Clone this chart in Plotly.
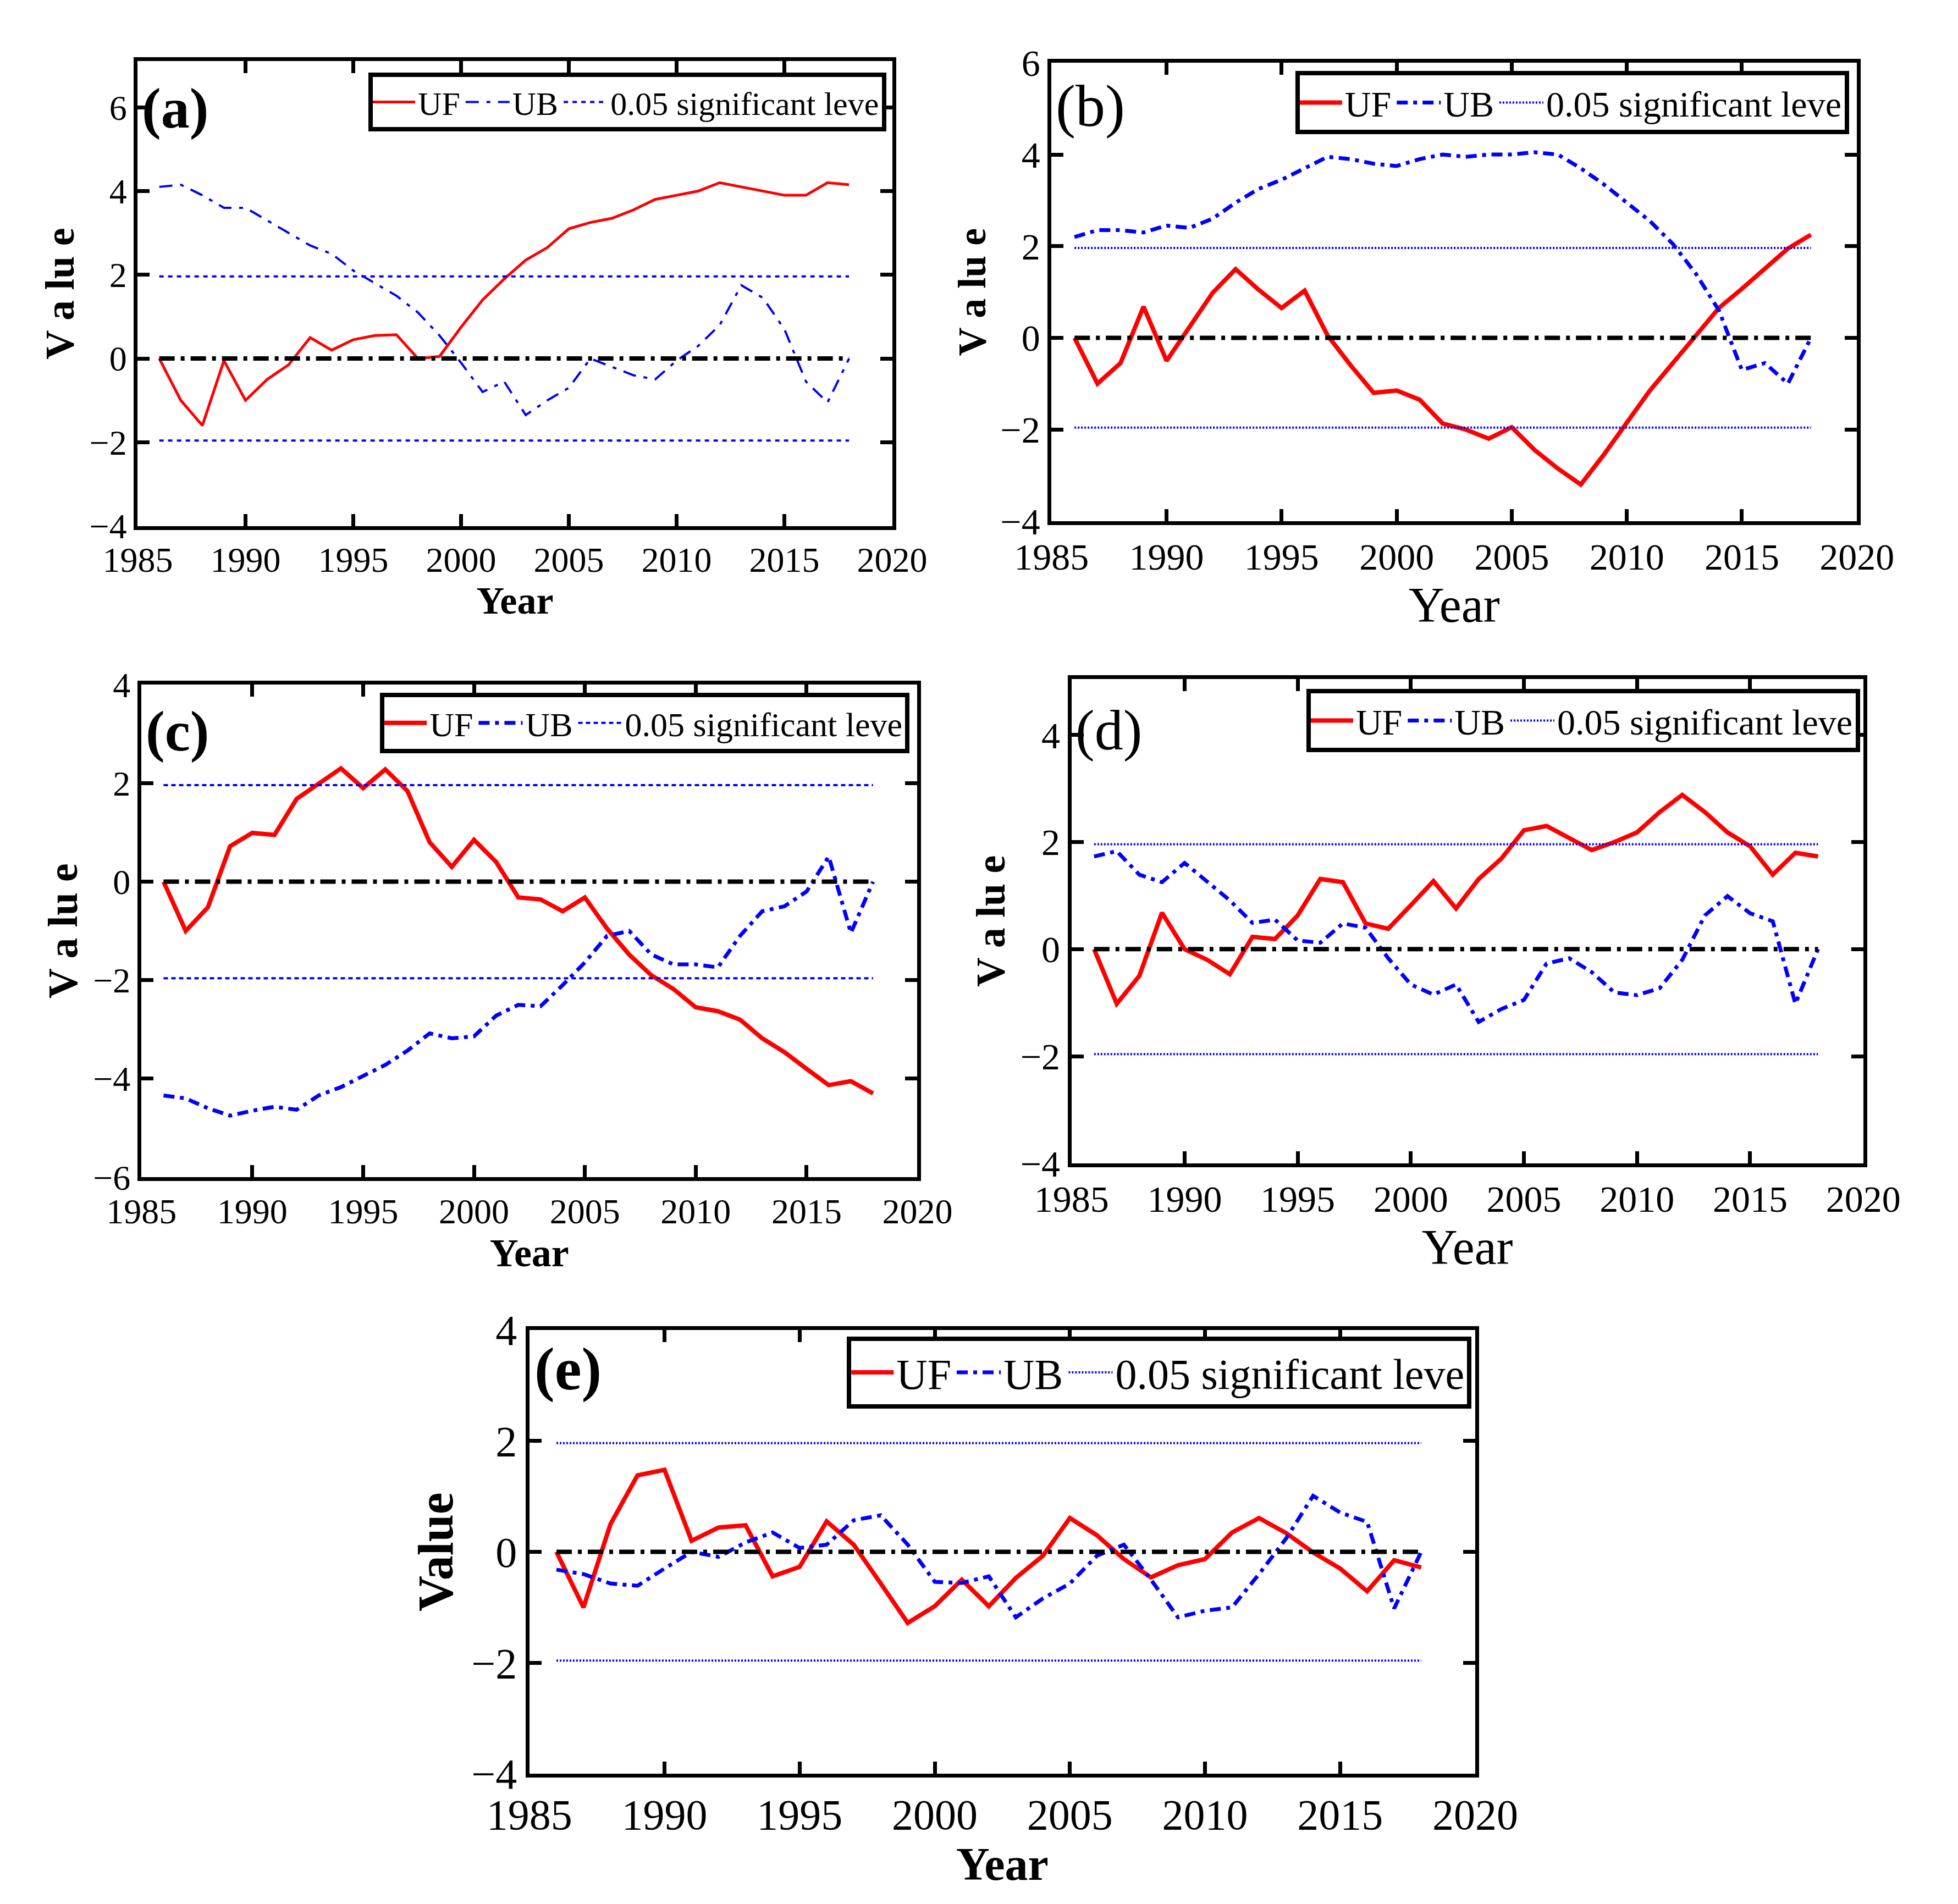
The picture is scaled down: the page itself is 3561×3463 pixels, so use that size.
import plotly.graph_objects as go

# ---------------- data ----------------
years = list(range(1986, 2019))
SIG = 1.96

uf_a = [0, -1.0, -1.6, -0.05, -1.0, -0.5, -0.15, 0.5, 0.2, 0.45, 0.55, 0.57, 0.0, 0.05, 0.75, 1.4,
        1.9, 2.35, 2.65, 3.1, 3.25, 3.35, 3.55, 3.8, 3.9, 4.0, 4.2, 4.1, 4.0, 3.9, 3.9, 4.2, 4.15]
ub_a = [4.1, 4.15, 3.9, 3.6, 3.6, 3.3, 3.0, 2.7, 2.5, 2.1, 1.8, 1.5, 1.1, 0.55, -0.1, -0.8,
        -0.55, -1.35, -1.0, -0.7, 0.0, -0.2, -0.4, -0.5, -0.05, 0.3, 0.8, 1.75, 1.45, 0.7, -0.55, -1.05, 0.0]

uf_b = [0, -1.0, -0.55, 0.68, -0.5, 0.25, 0.98, 1.5, 1.05, 0.65, 1.03, 0.05, -0.6, -1.2, -1.15, -1.35,
        -1.87, -2.0, -2.2, -1.95, -2.45, -2.85, -3.2, -2.55, -1.85, -1.15, -0.55, 0.05, 0.65, 1.07, 1.5, 1.95, 2.25]
ub_b = [2.2, 2.35, 2.35, 2.3, 2.45, 2.4, 2.6, 2.95, 3.25, 3.45, 3.7, 3.95, 3.9, 3.8, 3.75, 3.9,
        4.0, 3.95, 4.0, 4.0, 4.05, 4.0, 3.7, 3.35, 2.95, 2.55, 2.05, 1.4, 0.6, -0.7, -0.55, -1.0, 0.0]

uf_c = [0, -1.0, -0.52, 0.72, 0.99, 0.95, 1.68, 2.0, 2.3, 1.9, 2.28, 1.84, 0.8, 0.3, 0.85, 0.4,
        -0.32, -0.36, -0.6, -0.32, -0.95, -1.48, -1.9, -2.18, -2.55, -2.63, -2.8, -3.18, -3.46, -3.8, -4.13, -4.05, -4.3]
ub_c = [-4.34, -4.4, -4.6, -4.75, -4.65, -4.57, -4.63, -4.34, -4.17, -3.94, -3.72, -3.43, -3.08, -3.18, -3.14, -2.72,
        -2.5, -2.53, -2.1, -1.64, -1.1, -1.0, -1.48, -1.68, -1.68, -1.74, -1.1, -0.6, -0.5, -0.2, 0.51, -1.04, 0.0]

uf_d = [0, -1.02, -0.5, 0.68, 0.0, -0.2, -0.47, 0.23, 0.19, 0.63, 1.31, 1.25, 0.48, 0.38, 0.82, 1.27,
        0.76, 1.31, 1.69, 2.22, 2.3, 2.08, 1.85, 2.0, 2.18, 2.56, 2.88, 2.56, 2.18, 1.92, 1.39, 1.8, 1.73]
ub_d = [1.73, 1.83, 1.39, 1.25, 1.61, 1.27, 0.91, 0.49, 0.55, 0.16, 0.12, 0.48, 0.4, -0.17, -0.66, -0.85,
        -0.66, -1.36, -1.12, -0.95, -0.27, -0.17, -0.43, -0.81, -0.86, -0.73, -0.2, 0.63, 0.99, 0.67, 0.52, -1.02, 0.0]

uf_e = [0, -1.0, 0.5, 1.38, 1.48, 0.2, 0.44, 0.48, -0.44, -0.27, 0.55, 0.13, -0.57, -1.28, -0.98, -0.5,
        -0.98, -0.47, -0.07, 0.61, 0.3, -0.13, -0.46, -0.24, -0.13, 0.35, 0.61, 0.34, -0.01, -0.3, -0.71, -0.15, -0.28]
ub_e = [-0.32, -0.4, -0.57, -0.61, -0.3, 0.0, -0.09, 0.17, 0.35, 0.07, 0.13, 0.57, 0.66, 0.13, -0.54, -0.56,
        -0.44, -1.18, -0.84, -0.57, -0.07, 0.13, -0.5, -1.18, -1.06, -1.0, -0.4, 0.24, 1.01, 0.71, 0.54, -1.02, 0.0]

labels = ['(a)', '(b)', '(c)', '(d)', '(e)']
series = [(uf_a, ub_a), (uf_b, ub_b), (uf_c, ub_c), (uf_d, ub_d), (uf_e, ub_e)]
y_ranges = [[-4, 7.1], [-4, 6], [-6, 4], [-4, 5.05], [-4, 4]]
y_ticks = [[-4, -2, 0, 2, 4, 6], [-4, -2, 0, 2, 4, 6], [-6, -4, -2, 0, 2, 4], [-4, -2, 0, 2, 4], [-4, -2, 0, 2, 4]]
y_titles = ['V a lu e', 'V a lu e', 'V a lu e', 'V a lu e', 'Value']

# ---------------- layout of the five panels (pixels in 3561x3463) ----------------
W, H = 3561, 3463
boxes = [(172, 1607, 62, 929), (1910, 3442, 65, 920), (179, 1655, 1225, 2144),
         (1948, 3454, 1214, 2118), (917, 2716, 2429, 3257)]
legend_pos = [(1596, 83), (3427, 80), (1640, 1240), (3448, 1233), (2709, 2441)]
tick_size = [64, 68, 64, 68, 78]
leg_size = [60, 66, 62, 66, 78]
year_style = [(70, True), (90, False), (72, True), (90, False), (84, True)]
value_size = [74, 72, 76, 74, 90]
lab_style = [(104, True, 0.97), (108, False, 0.98), (104, True, 0.972), (104, False, 0.962), (110, True, 0.99)]
line_w = [5, 8, 8, 8, 8]
ub_dash = ['24px,14px,7px,14px', '20px,10px,7px,10px', '20px,10px,7px,10px', '20px,10px,7px,10px', '20px,10px,7px,10px']
sig_dash = ['8px,8px', '3px,3px', '8px,6px', '3px,3px', '3px,3px']

FONT = 'Liberation Serif, Times New Roman, serif'

fig = go.Figure()
layout = dict(width=W, height=H, margin=dict(l=0, r=0, t=0, b=0),
              paper_bgcolor='white', plot_bgcolor='white', showlegend=True,
              font=dict(family=FONT, color='black'), annotations=[])

for i, (uf, ub) in enumerate(series):
    n = '' if i == 0 else str(i + 1)
    xa, ya = 'x' + n, 'y' + n
    leg = 'legend' + n
    l, r, t, b = boxes[i]

    fig.add_trace(go.Scatter(x=years, y=uf, mode='lines', name='UF', legend=leg,
                             xaxis=xa, yaxis=ya, line=dict(color='#ff0000', width=line_w[i])))
    fig.add_trace(go.Scatter(x=years, y=ub, mode='lines', name='UB', legend=leg,
                             xaxis=xa, yaxis=ya, line=dict(color='#0000ff', width=line_w[i] - 1, dash=ub_dash[i])))
    fig.add_trace(go.Scatter(x=[years[0], years[-1]], y=[SIG, SIG], mode='lines', name='0.05 significant leve',
                             legend=leg, legendgroup='sig' + n, xaxis=xa, yaxis=ya,
                             line=dict(color='#0000ff', width=4, dash=sig_dash[i])))
    fig.add_trace(go.Scatter(x=[years[0], years[-1]], y=[-SIG, -SIG], mode='lines', showlegend=False,
                             legend=leg, legendgroup='sig' + n, xaxis=xa, yaxis=ya,
                             line=dict(color='#0000ff', width=4, dash=sig_dash[i])))
    fig.add_trace(go.Scatter(x=[years[0], years[-1]], y=[0, 0], mode='lines', showlegend=False,
                             xaxis=xa, yaxis=ya, line=dict(color='black', width=8, dash='28px,11px,7px,11px')))

    ax_common = dict(showgrid=False, zeroline=False, showline=True, linewidth=7, linecolor='black',
                     mirror='ticks', ticks='inside', ticklen=22, tickwidth=7, tickcolor='black')
    ysz, ybold = year_style[i]
    layout['xaxis' + n] = dict(ax_common, domain=[l / W, r / W], anchor=ya, range=[1985, 2020],
                               tickvals=list(range(1985, 2021, 5)),
                               tickfont=dict(family=FONT, size=tick_size[i], color='black'),
                               title=dict(text='<b>Year</b>' if ybold else 'Year', standoff=14,
                                          font=dict(family=FONT, size=ysz, color='black')))
    layout['yaxis' + n] = dict(ax_common, domain=[1 - b / H, 1 - t / H], anchor=xa, range=y_ranges[i],
                               tickvals=y_ticks[i],
                               tickfont=dict(family=FONT, size=tick_size[i], color='black'),
                               title=dict(text='<b>' + y_titles[i] + '</b>', standoff=6,
                                          font=dict(family=FONT, size=value_size[i], color='black')))
    lx, ly = legend_pos[i]
    layout[leg] = dict(x=lx / W, y=1 - ly / H, xanchor='right', yanchor='top', xref='paper', yref='paper',
                       orientation='h', bgcolor='white', bordercolor='black', borderwidth=8,
                       font=dict(family=FONT, size=leg_size[i], color='black'), itemwidth=80,
                       tracegroupgap=0)
    fs, fb, fy = lab_style[i]
    layout['annotations'].append(dict(text='<b>' + labels[i] + '</b>' if fb else labels[i],
                                      xref=xa + ' domain', yref=ya + ' domain', x=0.004, y=fy,
                                      xanchor='left', yanchor='top', showarrow=False,
                                      font=dict(family=FONT, size=fs, color='black')))

fig.update_layout(**layout)
fig.write_html('out.html')
